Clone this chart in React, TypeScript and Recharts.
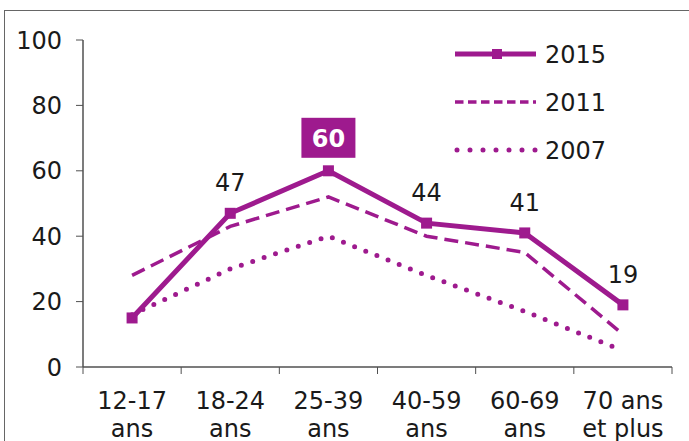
import React from 'react';
import { LineChart, Line, XAxis, YAxis } from 'recharts';

const categories = ['12-17 ans', '18-24 ans', '25-39 ans', '40-59 ans', '60-69 ans', '70 ans et plus'];
const labelLine1 = ['12-17', '18-24', '25-39', '40-59', '60-69', '70 ans'];
const labelLine2 = ['ans', 'ans', 'ans', 'ans', 'ans', 'et plus'];
const s2015 = [15, 47, 60, 44, 41, 19];
const s2011 = [28, 43, 52, 40, 35, 10];
const s2007 = [16, 30, 40, 28, 17, 5];
const yTicks = [0, 20, 40, 60, 80, 100];
const xBoundaries = [0, 1, 2, 3, 4, 5, 6];
const seriesNames = ['2015', '2011', '2007'];

const data = categories.map((c, i) => ({
  cat: c,
  pos: i + 0.5,
  y2015: s2015[i],
  y2011: s2011[i],
  y2007: s2007[i],
}));

const MAG = '#9E1A8E';
const FONT = '"DejaVu Sans", Verdana, sans-serif';
const AXIS = '#505050';
const FS = 24;
const W = 689;
const H = 441;
const XH = 30;
const M = { top: 40, right: 17, bottom: 74 - XH, left: 0 };
const YW = 83;
const HALF = (W - M.right - YW) / categories.length / 2;

const XTick = (props: any) => {
  const { x, y, payload } = props;
  const i = Math.round(payload.value);
  if (i >= categories.length) return <g />;
  const cx = x + HALF;
  return (
    <g>
      <text x={cx} y={y + 33} textAnchor="middle" fontSize={FS} fill="#1a1a1a" fontFamily={FONT}>
        {labelLine1[i]}
      </text>
      <text x={cx} y={y + 61} textAnchor="middle" fontSize={FS} fill="#1a1a1a" fontFamily={FONT}>
        {labelLine2[i]}
      </text>
    </g>
  );
};

const ValueLabel = (props: any) => {
  const { x, y, value, index } = props;
  if (index === 0) return null;
  if (value === 60) {
    return (
      <g>
        <rect x={x - 27} y={y - 53} width={54} height={40} fill={MAG} />
        <text x={x} y={y - 24} textAnchor="middle" fontSize={FS} fontWeight="bold" fill="#fff" fontFamily={FONT}>
          {value}
        </text>
      </g>
    );
  }
  return (
    <text x={x} y={y - 22} textAnchor="middle" fontSize={FS} fill="#1a1a1a" fontFamily={FONT}>
      {value}
    </text>
  );
};

const Square = (props: any) => {
  const { cx, cy } = props;
  if (cx == null || cy == null) return null;
  return <rect x={cx - 5.5} y={cy - 5.5} width={11} height={11} fill={MAG} />;
};

const LegendOverlay = () => (
  <svg width={W} height={H} style={{ position: 'absolute', left: 0, top: 0, pointerEvents: 'none' }}>
    <line x1={455} y1={54} x2={536} y2={54} stroke={MAG} strokeWidth={5} />
    <rect x={492} y={49} width={10} height={10} fill={MAG} />
    <text x={545} y={63} fontSize={FS} fill="#1a1a1a" fontFamily={FONT}>{seriesNames[0]}</text>
    <line x1={455} y1={102} x2={536} y2={102} stroke={MAG} strokeWidth={3.5} strokeDasharray="8.5 4.5" />
    <text x={545} y={111} fontSize={FS} fill="#1a1a1a" fontFamily={FONT}>{seriesNames[1]}</text>
    <line x1={457} y1={150} x2={536} y2={150} stroke={MAG} strokeWidth={5} strokeDasharray="0 13" strokeLinecap="round" />
    <text x={545} y={159} fontSize={FS} fill="#1a1a1a" fontFamily={FONT}>{seriesNames[2]}</text>
  </svg>
);

export default function App() {
  return (
    <div style={{ position: 'absolute', left: 0, top: 0, width: W, height: H, overflow: 'hidden', background: '#fff' }}>
      <div style={{ position: 'absolute', left: 4, top: 10, width: 700, height: 500, borderTop: '1.5px solid #666', borderLeft: '1.5px solid #666' }} />
      <div style={{ position: 'absolute', left: 0, top: 0 }}>
        <LineChart width={W} height={H} data={data} margin={M}>
          <XAxis
            dataKey="pos"
            type="number"
            domain={[0, 6]}
            ticks={xBoundaries}
            height={XH}
            tick={<XTick />}
            tickSize={7}
            tickMargin={2}
            interval={0}
            stroke={AXIS}
            tickLine={{ stroke: AXIS }}
            axisLine={{ stroke: AXIS, strokeWidth: 1.5 }}
          />
          <YAxis
            width={YW}
            domain={[0, 100]}
            ticks={yTicks}
            tickSize={7}
            tickMargin={14}
            interval={0}
            stroke={AXIS}
            axisLine={{ stroke: AXIS, strokeWidth: 1.5 }}
            tick={{ fontSize: FS, fill: '#1a1a1a', fontFamily: FONT }}
          />
          <Line
            dataKey="y2007"
            stroke={MAG}
            strokeWidth={5}
            strokeDasharray="0 12"
            strokeLinecap="round"
            dot={false}
            isAnimationActive={false}
          />
          <Line
            dataKey="y2011"
            stroke={MAG}
            strokeWidth={3.5}
            strokeDasharray="14 7"
            dot={false}
            isAnimationActive={false}
          />
          <Line
            dataKey="y2015"
            stroke={MAG}
            strokeWidth={5}
            dot={<Square />}
            label={<ValueLabel />}
            isAnimationActive={false}
          />
        </LineChart>
      </div>
      <LegendOverlay />
    </div>
  );
}
